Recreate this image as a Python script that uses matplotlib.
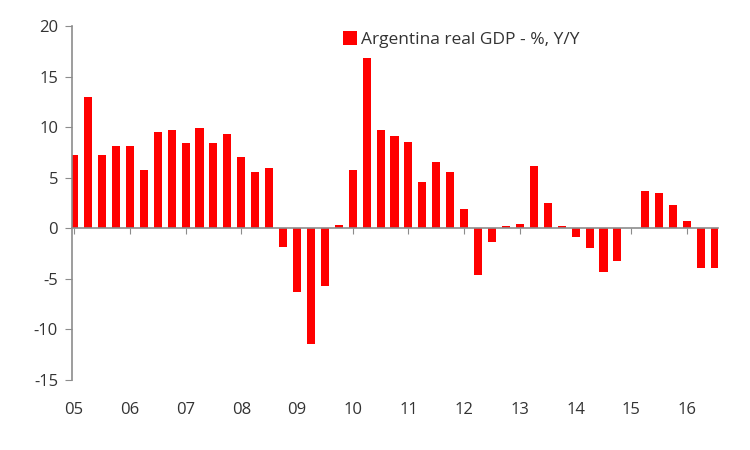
import matplotlib
matplotlib.use("Agg")
import matplotlib.pyplot as plt
import numpy as np

# Argentina real GDP, % Y/Y, quarterly 2005Q1 - 2016Q3
gdp_yy = [7.2, 13.0, 7.2, 8.1,
          8.1, 5.8, 9.5, 9.7,
          8.4, 9.9, 8.4, 9.3,
          7.0, 5.6, 6.0, -1.9,
          -6.3, -11.5, -5.7, 0.3,
          5.8, 16.8, 9.7, 9.1,
          8.5, 4.6, 6.6, 5.6,
          1.9, -4.6, -1.4, 0.2,
          0.4, 6.2, 2.5, 0.2,
          -0.9, -2.0, -4.3, -3.2,
          0.0, 3.7, 3.5, 2.3,
          0.7, -3.9, -3.9]
year_labels = ["05", "06", "07", "08", "09", "10", "11", "12", "13", "14", "15", "16"]
label_name = "Argentina real GDP - %, Y/Y"

plt.rcParams['font.family'] = ['Open Sans', 'DejaVu Sans']
plt.rcParams['axes.unicode_minus'] = False

fig = plt.figure(figsize=(7.5, 4.5), dpi=100)
ax = fig.add_axes([0.096, 0.156, 0.861, 0.786])

x = np.arange(len(gdp_yy))
ax.bar(x, gdp_yy, width=0.58, color='#ff0000', label=label_name, zorder=2)

ax.set_xlim(-0.15, 46.2)
ax.set_ylim(-15, 20)
ax.set_yticks(np.arange(-15, 21, 5))

grey = '#8c8c8c'
for s in ['top', 'right']:
    ax.spines[s].set_visible(False)
ax.spines['left'].set_color(grey)
ax.spines['bottom'].set_color(grey)
ax.spines['left'].set_linewidth(1.2)
ax.spines['bottom'].set_linewidth(1.2)
ax.spines['bottom'].set_position(('data', 0))
ax.spines['bottom'].set_zorder(3)

q1 = np.arange(0, len(gdp_yy), 4)
ax.set_xticks(q1)
ax.tick_params(axis='x', length=4, color=grey, labelbottom=False)
ax.tick_params(axis='y', length=5, color=grey, labelsize=12, labelcolor='#333333', pad=5)

for pos, lab in zip(q1, year_labels):
    ax.text(pos, -17.2, lab, ha='center', va='top', fontsize=12, color='#333333', clip_on=False)

fig.legend(loc='upper left', bbox_to_anchor=(0.436, 0.965), frameon=False,
           handlelength=0.85, handleheight=0.85, handletextpad=0.2,
           fontsize=12.5, labelcolor='#333333')

fig.savefig('out.png', dpi=100)
